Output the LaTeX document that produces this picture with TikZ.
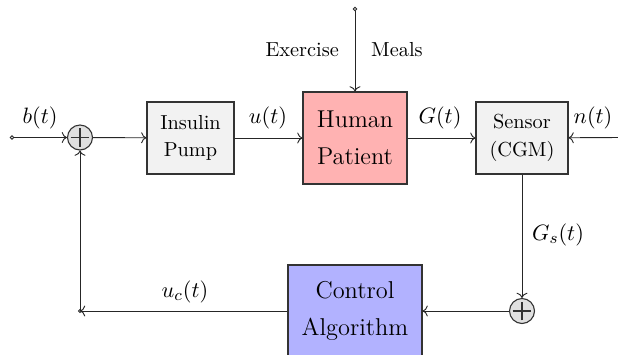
\documentclass[tikz,border=0pt]{standalone}
\usetikzlibrary{arrows.meta}
\begin{document}
\begin{tikzpicture}[x=0.4926pt,y=-0.4926pt,
  line width=0.45pt,
  conn/.style={draw=black!85,->},
  blk/.style={draw=black!80,line width=0.55pt,inner sep=0pt,align=center},
  smallblk/.style={blk,fill=black!5,font=\fontsize{10}{13.6}\selectfont,minimum height=35.5pt},
  bigblk/.style={blk,font=\fontsize{12}{18.5}\selectfont,minimum height=45.3pt},
  sumnode/.style={circle,draw=black!80,line width=0.55pt,fill=black!12,inner sep=0pt,minimum size=12.3pt,
    path picture={\draw[black!80,line width=0.55pt]
      ([xshift=-4.6pt]path picture bounding box.center) -- ([xshift=4.6pt]path picture bounding box.center)
      ([yshift=-4.6pt]path picture bounding box.center) -- ([yshift=4.6pt]path picture bounding box.center);}},
  dotnode/.style={circle,draw=black!85,fill=white,inner sep=0.6pt},
  lbl/.style={font=\fontsize{11}{13}\selectfont},
  sidelbl/.style={font=\fontsize{10}{12}\selectfont}]
\useasboundingbox (0,0) rectangle (618,354);
\node[dotnode] (b) at (12,137.5) {};
\node[sumnode] (s1) at (80,137.5) {};
\node[smallblk,minimum width=42.9pt] (pump) at (190.5,138) {Insulin\\Pump};
\node[bigblk,fill=red!30,minimum width=51.2pt] (hp) at (355,138) {Human\\Patient};
\node[smallblk,minimum width=45.3pt] (sens) at (522,138) {Sensor\\(CGM)};
\node[dotnode] (top) at (355,9) {};
\coordinate (nin) at (620,137.5);
\node[sumnode] (s2) at (522,311) {};
\node[bigblk,fill=blue!30,minimum width=66pt] (ctrl) at (355,311) {Control\\Algorithm};
\node[dotnode,inner sep=0.5pt] (corner) at (80,311) {};

\draw[conn] (b) -- (s1);
\draw[conn] (s1) -- (pump);
\draw[conn] (pump) -- (hp);
\draw[conn] (hp) -- (sens);
\draw[conn] (nin) -- (sens);
\draw[conn] (top) -- (hp);
\draw[conn] (sens) -- (s2);
\draw[conn] (s2) -- (ctrl);
\draw[conn] (ctrl) -- (corner.center);
\draw[conn] (corner.center) -- (s1);

\node[lbl] (lb) at (40,118) {$b(t)$};
\node[lbl] (lu) at (268,118) {$u(t)$};
\node[lbl] (lg) at (440,118) {$G(t)$};
\node[lbl] (ln) at (593,118) {$n(t)$};
\node[lbl] (lgs) at (558,235) {$G_s(t)$};
\node[lbl] (luc) at (185,292) {$u_c(t)$};
\node[sidelbl,anchor=east] (ex) at (346,50) {Exercise};
\node[sidelbl,anchor=west] (me) at (364,50) {Meals};
\end{tikzpicture}
\end{document}
